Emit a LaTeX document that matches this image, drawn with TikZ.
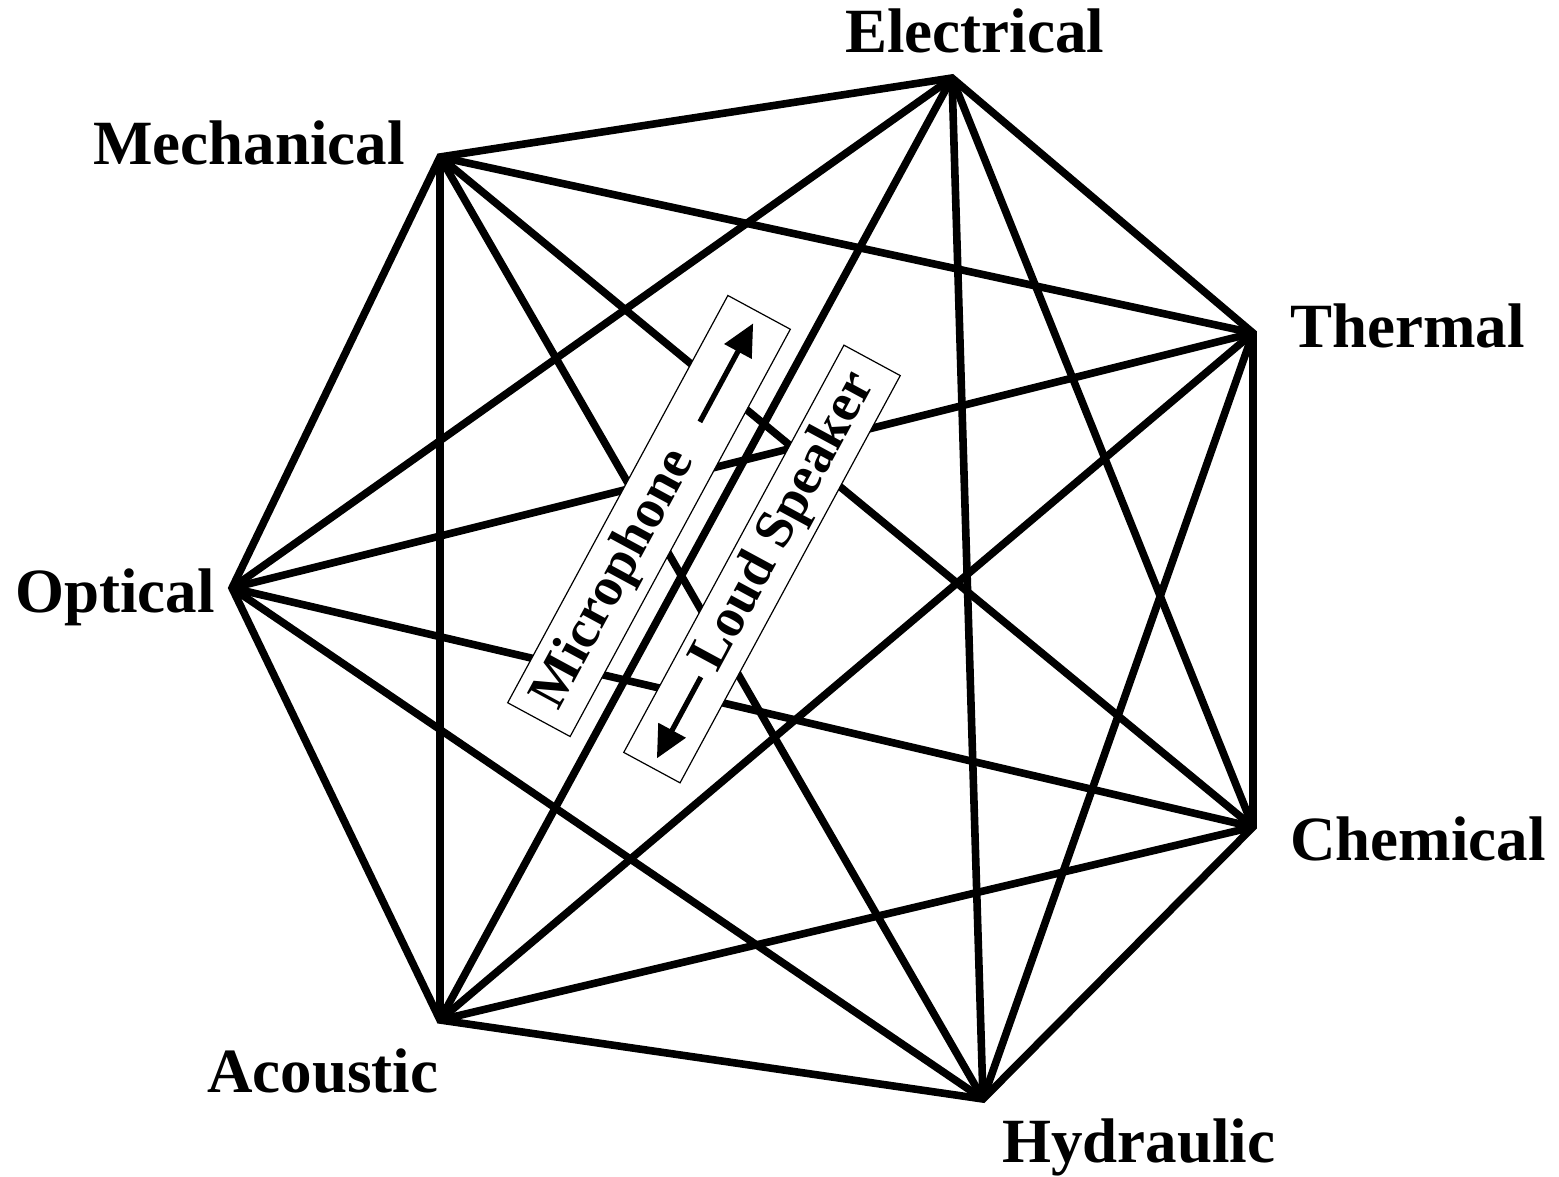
\documentclass[tikz,border=0pt]{standalone}
\usepackage{fontspec}
\setmainfont{Liberation Serif}
\usetikzlibrary{arrows.meta}
\begin{document}
\begin{tikzpicture}[x=0.5pt,y=-0.5pt,
  edge/.style={line width=3.8pt, line join=miter, line cap=butt},
  lbl/.style={font=\fontsize{31.5}{36}\selectfont\bfseries, inner sep=0pt, anchor=base west},
  boxlbl/.style={font=\fontsize{27.4}{32}\selectfont\bfseries, inner sep=0pt},
  flowarrow/.style={line width=2.6pt, -{Triangle[length=16pt,width=15pt]}},
  devbox/.style={draw, line width=0.6pt, fill=white, inner sep=0pt, outer sep=0pt}]
\useasboundingbox (0,0) rectangle (1559,1177);
% vertices
\coordinate (E) at (952,78);
\coordinate (T) at (1253,333);
\coordinate (C) at (1253,827);
\coordinate (H) at (983,1099);
\coordinate (A) at (440,1020);
\coordinate (O) at (232,588);
\coordinate (M) at (440,157);
% hull
\draw[edge] (E) -- (T) -- (C) -- (H) -- (A) -- (O) -- (M) -- cycle;
% diagonals
\foreach \a/\b in {E/C,T/H,C/A,H/O,A/M,O/E,M/T,E/H,T/A,C/O,H/M,A/E,O/T,M/C}
  \draw[edge] (\a) -- (\b);
% labels
\node[lbl] (lE) at (845,53) {Electrical};
\node[lbl] (lM) at (93,164) {Mechanical};
\node[lbl] (lO) at (15,612) {Optical};
\node[lbl] (lT) at (1290,347) {Thermal};
\node[lbl] (lC) at (1290,860) {Chemical};
\node[lbl] (lA) at (207,1092) {Acoustic};
\node[lbl] (lH) at (1002,1162) {Hydraulic};
% microphone box
\begin{scope}[shift={(649,516)}, rotate=61.6]
  \node[devbox, transform shape, minimum width=231.5pt, minimum height=35.5pt] (micbox) at (0,0) {};
  \node[boxlbl, transform shape] (mictext) at (-72,0) {Microphone};
  \coordinate (m1) at (107,0);
  \coordinate (m2) at (219,0);
  \draw[flowarrow] (m1) -- (m2);
\end{scope}
% loud speaker box
\begin{scope}[shift={(762,564)}, rotate=61.6]
  \node[devbox, transform shape, minimum width=231.5pt, minimum height=32pt] (lsbox) at (0,0) {};
  \node[boxlbl, transform shape] (lstext) at (47.5,0) {Loud Speaker};
  \coordinate (s1) at (-128.5,0);
  \coordinate (s2) at (-221,0);
  \draw[flowarrow] (s1) -- (s2);
\end{scope}
\end{tikzpicture}
\end{document}
